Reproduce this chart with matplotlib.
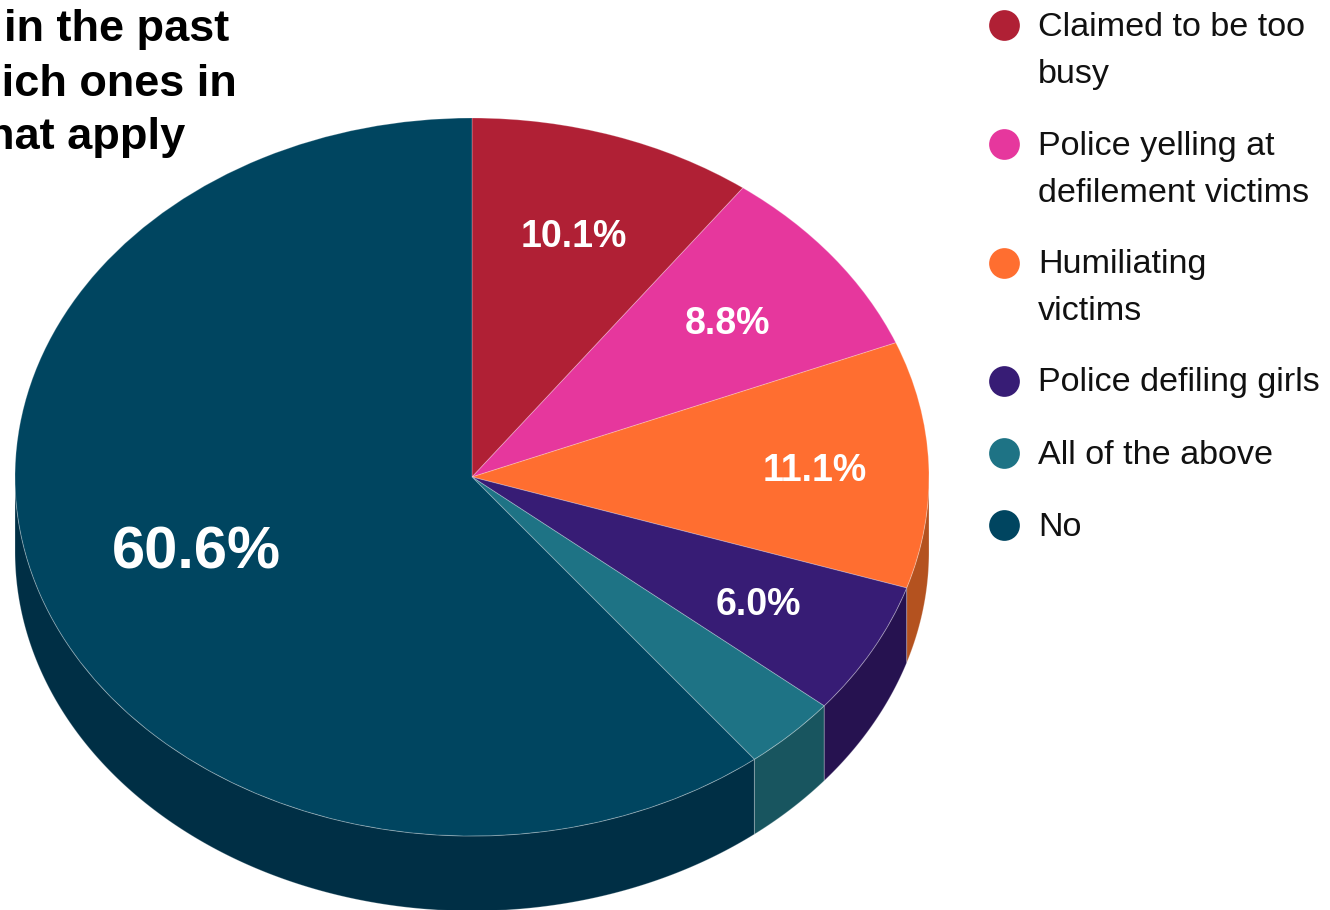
import numpy as np
import matplotlib
matplotlib.use("Agg")
import matplotlib.pyplot as plt
from matplotlib.transforms import Affine2D

plt.rcParams['font.family'] = ['Liberation Sans', 'DejaVu Sans']

# ── data ──────────────────────────────────────────────────────────────
labels = ['Claimed to be too\nbusy', 'Police yelling at\ndefilement victims',
          'Humiliating\nvictims', 'Police defiling girls', 'All of the above', 'No']
values = [10.1, 8.8, 11.1, 6.0, 3.4, 60.6]
colors = ['#b02035', '#e6379d', '#ff6e30', '#371c75', '#1e7385', '#004560']
side_colors = ['#7f1726', '#a52871', '#b4521f', '#261250', '#18555f', '#002f45']
title_lines = ['in the past', 'which ones in', 'that apply']

# ── layout, in pixels of the reference ────────────────────────────────
W, H = 1330, 910
CX, CY = 472, 477
RX, RY = 457, 359
DEPTH = 75 / RY

fig = plt.figure(figsize=(W / 100, H / 100), dpi=100)
ax = fig.add_axes([0, 0, 1, 1])

wedges, _ = ax.pie(values, colors=colors, startangle=90, counterclock=False, radius=1,
                   wedgeprops=dict(edgecolor=(1, 1, 1, 0.25), linewidth=0.7, zorder=3))
ax.set_aspect('auto')
ax.set_xlim(-CX / RX, (W - CX) / RX)
ax.set_ylim(-(H - CY) / RY, CY / RY)
ax.axis('off')

# side wall of the disc, only the part facing the viewer
edges = np.cumsum([0] + values) / sum(values) * 360
for start, end, col in zip(edges[:-1], edges[1:], side_colors):
    lo, hi = max(start, 90), min(end, 270)
    if hi <= lo:
        continue
    t = np.radians(np.linspace(lo, hi, 200))
    xs = np.sin(t)
    ys = np.cos(t)
    ax.fill(np.r_[xs, xs[::-1]], np.r_[ys, ys[::-1] - DEPTH], facecolor=col,
            edgecolor=(1, 1, 1, 0.25), linewidth=0.7, zorder=2)

# pixel coordinates for the text and legend
px = Affine2D().scale(1 / W, -1 / H).translate(0, 1) + fig.transFigure

pct_pos = [(574, 237, 27), (728, 324, 27), (815, 471, 27), (758, 605, 27), None, (196, 553, 43)]
for v, pos in zip(values, pct_pos):
    if pos is None:
        continue
    ax.text(pos[0], pos[1], f'{v:.1f}%', transform=px, color='white', fontsize=pos[2],
            fontweight='bold', ha='center', va='center', zorder=5)

for line, right, y in zip(title_lines, [229, 237, 185], [29, 84, 138]):
    ax.text(right, y, line, transform=px, fontsize=32.5, fontweight='bold', color='black',
            ha='right', va='center', zorder=5)

legend_y = [25, 144, 263, 381, 453, 525]
for lab, col, y in zip(labels, colors, legend_y):
    ax.scatter([1004], [y], s=490, color=col, transform=px, linewidths=0, zorder=5, clip_on=False)
    for i, part in enumerate(lab.split('\n')):
        ax.text(1038, y + 2 + i * 47, part, transform=px, fontsize=24.6, color='#111111',
                ha='left', va='center', zorder=5)

fig.savefig('out.png', dpi=100, facecolor='white')
